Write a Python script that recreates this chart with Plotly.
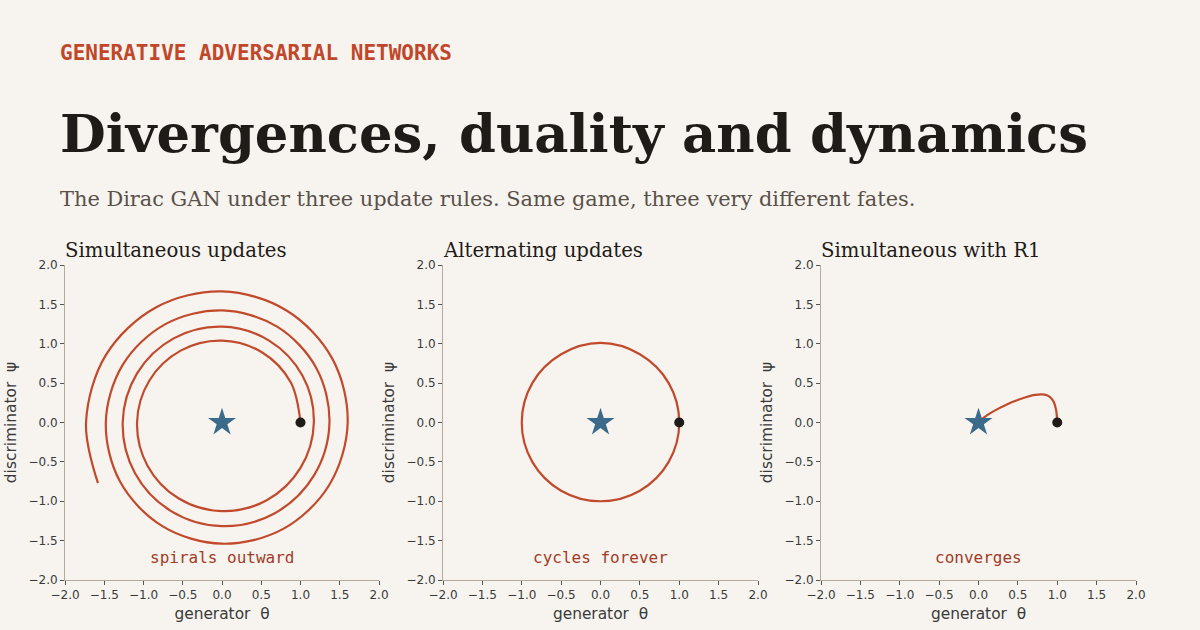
import plotly.graph_objects as go

# ---- data ----
# Panel 1: simultaneous updates (spiral outward), sampled every ~30 degrees
sim_theta = [1.000, 0.877, 0.513, 0.000, -0.527, -0.925, -1.082, -0.949, -0.555, 0.000,
             0.570, 1.000, 1.170, 1.026, 0.600, 0.000, -0.616, -1.082, -1.265, -1.110,
             -0.649, 0.000, 0.667, 1.170, 1.369, 1.201, 0.702, 0.000, -0.721, -1.265,
             -1.480, -1.299, -0.760, 0.000, 0.780, 1.368, 1.601, 1.405, 0.822, 0.000,
             -0.843, -1.480, -1.732, -1.58]
sim_psi = [0.000, 0.507, 0.889, 1.040, 0.913, 0.534, 0.000, -0.548, -0.962, -1.125,
           -0.987, -0.577, 0.000, 0.593, 1.040, 1.217, 1.068, 0.624, 0.000, -0.641,
           -1.125, -1.316, -1.155, -0.675, 0.000, 0.693, 1.217, 1.423, 1.249, 0.731,
           0.000, -0.750, -1.316, -1.539, -1.351, -0.790, 0.000, 0.811, 1.423, 1.665,
           1.461, 0.855, 0.000, -0.77]

# Panel 2: alternating updates (closed cycle)
alt_theta = [1.0, 0.866, 0.5, 0.0, -0.5, -0.866, -1.0, -0.866, -0.5, 0.0, 0.5, 0.866, 1.0]
alt_psi = [0.0, 0.5, 0.866, 1.01, 0.866, 0.5, 0.0, -0.5, -0.866, -1.0, -0.866, -0.5, 0.0]

# Panel 3: simultaneous with R1 (converges)
r1_theta = [1.0, 0.995, 0.985, 0.96, 0.92, 0.87, 0.80, 0.72, 0.60, 0.48, 0.36, 0.24, 0.12, 0.04, 0.0]
r1_psi = [0.0, 0.08, 0.16, 0.25, 0.31, 0.345, 0.357, 0.35, 0.32, 0.28, 0.23, 0.17, 0.10, 0.04, 0.0]

start_point = (1.0, 0.0)
equilibrium = (0.0, 0.0)

panel_titles = ["Simultaneous updates", "Alternating updates", "Simultaneous with R1"]
panel_notes = ["spirals outward", "cycles forever", "converges"]
note_y = -1.72
axis_ticks = [-2.0, -1.5, -1.0, -0.5, 0.0, 0.5, 1.0, 1.5, 2.0]

# ---- styling ----
BG = "#f7f4ef"
LINE = "#c24a2c"
STAR = "#3b6a8b"
DOT = "#1f1b18"
AXIS = "#b5aa9c"
TEXT = "#3a3a3a"
NOTE = "#a23b26"

W, H = 1200, 630
ML, MR, MT, MB = 65, 64, 265, 50
PW, PH = W - ML - MR, H - MT - MB


def px_x(px):
    return (px - ML) / PW


def px_y(py):
    return (H - MB - py) / PH


x_domains = [(px_x(65), px_x(379)), (px_x(443), px_x(758)), (px_x(821), px_x(1136))]
y_domain = (0.0, 1.0)

fig = go.Figure()
series = [(sim_theta, sim_psi), (alt_theta, alt_psi), (r1_theta, r1_psi)]

for i, (tx, py) in enumerate(series):
    sfx = "" if i == 0 else str(i + 1)
    xa, ya = "x" + sfx, "y" + sfx
    fig.add_trace(go.Scatter(x=tx, y=py, mode="lines", xaxis=xa, yaxis=ya,
                             line=dict(color=LINE, width=2.2, shape="spline", smoothing=1.0),
                             showlegend=False, hoverinfo="skip"))
    fig.add_trace(go.Scatter(x=[start_point[0]], y=[start_point[1]], mode="markers",
                             xaxis=xa, yaxis=ya,
                             marker=dict(color=DOT, size=10), showlegend=False))
    fig.add_trace(go.Scatter(x=[equilibrium[0]], y=[equilibrium[1]], mode="markers",
                             xaxis=xa, yaxis=ya,
                             marker=dict(color=STAR, size=21, symbol="star"), showlegend=False))

    axis_common = dict(range=[-2, 2], tickvals=axis_ticks, tickformat=".1f",
                       showgrid=False, zeroline=False, showline=True, linecolor=AXIS,
                       linewidth=1, ticks="outside", ticklen=4, tickcolor="#555555",
                       automargin=False,
                       tickfont=dict(family="DejaVu Sans", size=12, color=TEXT))
    fig.layout["xaxis" + sfx] = dict(domain=list(x_domains[i]), anchor=ya,
                                     title=dict(text="generator \u00a0θ", standoff=6,
                                                font=dict(family="DejaVu Sans", size=15.4, color=TEXT)),
                                     **axis_common)
    fig.layout["yaxis" + sfx] = dict(domain=list(y_domain), anchor=xa,
                                     title=dict(text="discriminator \u00a0ψ", standoff=8,
                                                font=dict(family="DejaVu Sans", size=15.4, color=TEXT)),
                                     **axis_common)

    fig.add_annotation(text=panel_notes[i], x=0, y=note_y, xref=xa, yref=ya,
                       showarrow=False, xanchor="center", yanchor="middle",
                       font=dict(family="DejaVu Sans Mono", size=16, color=NOTE))
    fig.add_annotation(text=panel_titles[i], x=x_domains[i][0], y=px_y(251),
                       xref="paper", yref="paper", showarrow=False,
                       xanchor="left", yanchor="middle", xshift=-2,
                       font=dict(family="DejaVu Serif", size=19.7, color="#1f1b18"))

fig.add_annotation(text="<b>GENERATIVE ADVERSARIAL NETWORKS</b>", x=px_x(60), y=px_y(53),
                   xref="paper", yref="paper", showarrow=False, xanchor="left", yanchor="middle",
                   xshift=-2, font=dict(family="DejaVu Sans Mono", size=21, color="#c1472b"))
fig.add_annotation(text="<b>Divergences, duality and dynamics</b>", x=px_x(60), y=px_y(133),
                   xref="paper", yref="paper", showarrow=False, xanchor="left", yanchor="middle",
                   xshift=-2, font=dict(family="DejaVu Serif", size=52.8, color="#1f1b18"))
fig.add_annotation(text="The Dirac GAN under three update rules. Same game, three very different fates.",
                   x=px_x(60), y=px_y(199),
                   xref="paper", yref="paper", showarrow=False, xanchor="left", yanchor="middle",
                   xshift=-2, font=dict(family="DejaVu Serif", size=20.9, color="#5a504a"))

fig.update_layout(width=W, height=H, paper_bgcolor=BG, plot_bgcolor=BG,
                  margin=dict(l=ML, r=MR, t=MT, b=MB, autoexpand=False), showlegend=False)

fig.write_html("out.html", config={"displayModeBar": False},
               post_script="document.body.style.margin='0';document.body.style.padding='0';")
